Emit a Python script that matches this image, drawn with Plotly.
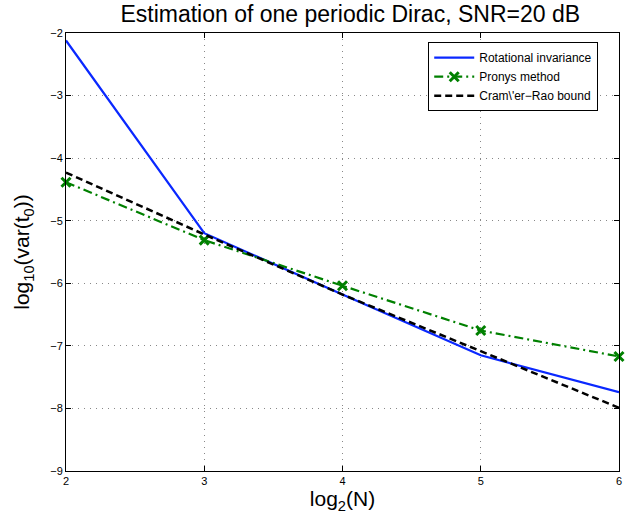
import plotly.graph_objects as go

log2N = [2, 3, 4, 5, 6]
rot_inv = [-2.12, -5.20, -6.18, -7.15, -7.74]
prony = [-4.385, -5.31, -6.04, -6.755, -7.17]
crb = [-4.23, -5.22, -6.18, -7.09, -7.99]

x_ticks = [2, 3, 4, 5, 6]
y_ticks = [-9, -8, -7, -6, -5, -4, -3, -2]
y_tick_labels = ["\u22129", "\u22128", "\u22127", "\u22126", "\u22125", "\u22124", "\u22123", "\u22122"]

FONT = "Liberation Sans, Arial, Helvetica, sans-serif"

fig = go.Figure()
fig.add_trace(go.Scatter(x=log2N, y=rot_inv, mode="lines", name="Rotational invariance",
                         line=dict(color="#0a28ff", width=2.2), cliponaxis=False))
fig.add_trace(go.Scatter(x=log2N, y=prony, mode="lines+markers", name="Pronys method",
                         line=dict(color="#008000", width=2.2, dash="9px,4px,2px,4px"),
                         marker=dict(symbol="x-thin", size=9, color="#008000",
                                     line=dict(color="#008000", width=3)),
                         cliponaxis=False))
fig.add_trace(go.Scatter(x=log2N, y=crb, mode="lines", name="Cram\\'er\u2212Rao bound",
                         line=dict(color="#000000", width=2.5, dash="7px,4px"), cliponaxis=False))

axis_common = dict(showline=True, linecolor="black", linewidth=1, mirror="ticks",
                   ticks="inside", ticklen=5, tickcolor="black",
                   showgrid=True, gridcolor="#888888", griddash="1px,5px", gridwidth=1,
                   zeroline=False, ticklabeloverflow="allow",
                   tickfont=dict(family=FONT, size=11, color="black"))

fig.update_layout(
    width=626, height=522,
    margin=dict(l=66, r=4, t=33, b=51),
    paper_bgcolor="white", plot_bgcolor="white",
    font=dict(family=FONT, color="black"),
    title=dict(text="Estimation of one periodic Dirac, SNR=20 dB",
               xref="paper", x=0.514, xanchor="center", y=0.974, yanchor="middle",
               font=dict(family=FONT, size=23, color="black")),
    xaxis=dict(range=[2, 6], tickvals=x_ticks, ticktext=[str(v) for v in x_ticks],
               title=dict(text="log<sub>2</sub>(N)", font=dict(family=FONT, size=21), standoff=5),
               **axis_common),
    yaxis=dict(range=[-9, -2], tickvals=y_ticks, ticktext=y_tick_labels,
               title=dict(text="log<sub>10</sub>(var(t<sub>0</sub>))", font=dict(family=FONT, size=21), standoff=14),
               **axis_common),
    legend=dict(x=0.655, y=0.979, xanchor="left", yanchor="top",
                bgcolor="white", bordercolor="black", borderwidth=1,
                font=dict(family=FONT, size=12, color="black"),
                tracegroupgap=0, itemwidth=40),
    showlegend=True,
)

fig.write_html("out.html", config={"displayModeBar": False},
               post_script="document.body.style.margin='0';document.body.style.overflow='hidden';")
